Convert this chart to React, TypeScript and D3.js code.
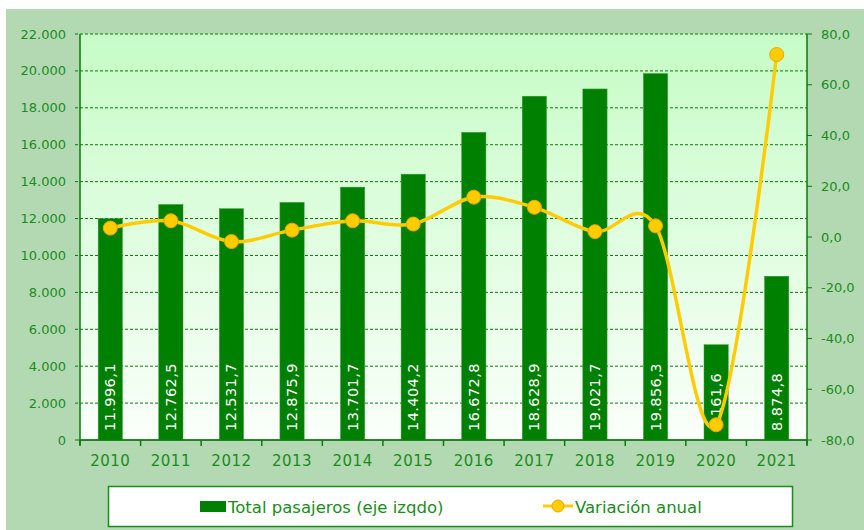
import React from "react";
import * as d3 from "d3";

const years = ["2010","2011","2012","2013","2014","2015","2016","2017","2018","2019","2020","2021"];
const passengers = [11996.1,12762.5,12531.7,12875.9,13701.7,14404.2,16672.8,18628.9,19021.7,19856.3,5161.6,8874.8];
const variation = [3.5,6.4,-1.8,2.7,6.4,5.1,15.7,11.7,2.1,4.4,-74.0,71.9];
const leftTicks = [0,2000,4000,6000,8000,10000,12000,14000,16000,18000,20000,22000];
const rightTicks = [-80,-60,-40,-20,0,20,40,60,80];
const legendLabels = ["Total pasajeros (eje izqdo)", "Variación anual"];

const W = 864, H = 530;
const plot = { left: 80, right: 807, top: 34, bottom: 440 };
const green = "#1a8c1a";
const barColor = "#008000";
const lineColor = "#ffcc00";
const font = "'DejaVu Sans', Verdana, sans-serif";

const fmtLeft = (v: number) => v === 0 ? "0" : d3.format(",")(v).replace(/,/g, ".");
const fmtRight = (v: number) => v.toFixed(1).replace(".", ",");
const fmtBar = (v: number) => {
  const s = v.toFixed(1);
  const [i, d] = s.split(".");
  return i.replace(/\B(?=(\d{3})+(?!\d))/g, ".") + "," + d;
};

export default function App() {
  const x = d3.scaleBand().domain(years).range([plot.left, plot.right]).paddingInner(0).paddingOuter(0);
  const yL = d3.scaleLinear().domain([0, 22000]).range([plot.bottom, plot.top]);
  const yR = d3.scaleLinear().domain([-80, 80]).range([plot.bottom, plot.top]);
  const bw = x.bandwidth() * 0.4;
  const cx = (y: string) => (x(y) as number) + x.bandwidth() / 2;
  const line = d3.line<number>()
    .x((_, i) => cx(years[i]))
    .y(d => yR(d))
    .curve(d3.curveCardinal.tension(0));
  const boundaries = years.map(y => x(y) as number).concat([plot.right]);

  return (
    <svg width={W} height={H} style={{ position: "absolute", left: 0, top: 0 }} fontFamily={font}>
      <defs>
        <linearGradient id="bg" x1="0" y1="0" x2="0" y2="1">
          <stop offset="0" stopColor="#c6fcc6" />
          <stop offset="1" stopColor="#fafffa" />
        </linearGradient>
      </defs>
      <rect x={0} y={0} width={W} height={H} fill="#ffffff" />
      <rect x={6} y={9} width={W - 6} height={H - 9} fill="#b3d9b3" />
      <rect x={plot.left} y={plot.top} width={plot.right - plot.left} height={plot.bottom - plot.top} fill="url(#bg)" />
      {leftTicks.map(t => (
        <g key={t}>
          <line x1={plot.left - 5} x2={plot.right} y1={yL(t)} y2={yL(t)} stroke="#0a7a0a" strokeWidth={1} strokeDasharray={t === 0 ? undefined : "3,2"} />
          <text x={66} y={yL(t)} dy="0.35em" textAnchor="end" fontSize={13} fill={green}>{fmtLeft(t)}</text>
        </g>
      ))}
      {rightTicks.map(t => (
        <g key={t}>
          <line x1={plot.right} x2={plot.right + 5} y1={yR(t)} y2={yR(t)} stroke="#0a7a0a" />
          <text x={821} y={yR(t)} dy="0.35em" textAnchor="start" fontSize={13} fill={green}>{fmtRight(t)}</text>
        </g>
      ))}
      {years.map((yr, i) => (
        <rect key={yr} x={cx(yr) - bw / 2} y={yL(passengers[i])} width={bw} height={plot.bottom - yL(passengers[i])} fill={barColor} stroke="#3a9a3a" strokeWidth={0.5} />
      ))}
      {years.map((yr, i) => (
        <text key={yr} transform={`translate(${cx(yr) + 5},${plot.bottom - 9}) rotate(-90)`} fontSize={14.5} letterSpacing={0.4} fill="#ffffff">{fmtBar(passengers[i])}</text>
      ))}
      <line x1={plot.left} x2={plot.left} y1={plot.top} y2={plot.bottom + 5} stroke="#0a7a0a" strokeWidth={1.5} />
      <line x1={plot.right} x2={plot.right} y1={plot.top} y2={plot.bottom + 5} stroke="#0a7a0a" strokeWidth={1.5} />
      <line x1={plot.left} x2={plot.right} y1={plot.bottom} y2={plot.bottom} stroke="#0a7a0a" strokeWidth={1.5} />
      {boundaries.map((b, i) => (
        <line key={i} x1={b} x2={b} y1={plot.bottom} y2={plot.bottom + 6} stroke="#0a7a0a" strokeWidth={1.5} />
      ))}
      {years.map(yr => (
        <text key={yr} x={cx(yr)} y={466} textAnchor="middle" fontSize={15} letterSpacing={0.5} fill={green}>{yr}</text>
      ))}
      <path d={line(variation) || ""} fill="none" stroke={lineColor} strokeWidth={3.5} />
      {variation.map((v, i) => (
        <circle key={i} cx={cx(years[i])} cy={yR(v)} r={7} fill={lineColor} stroke="#f0a500" strokeWidth={1} />
      ))}
      <rect x={108.5} y={486.5} width={684} height={40} fill="#ffffff" stroke="#1a8c1a" strokeWidth={1.5} />
      <rect x={200} y={501} width={26} height={11} fill={barColor} />
      <text x={228} y={513} fontSize={16.5} fill={green}>{legendLabels[0]}</text>
      <line x1={543} x2={573} y1={506} y2={506} stroke={lineColor} strokeWidth={3} />
      <circle cx={558} cy={506} r={6} fill={lineColor} stroke="#f0a500" strokeWidth={1} />
      <text x={575} y={513} fontSize={16.5} fill={green}>{legendLabels[1]}</text>
    </svg>
  );
}
